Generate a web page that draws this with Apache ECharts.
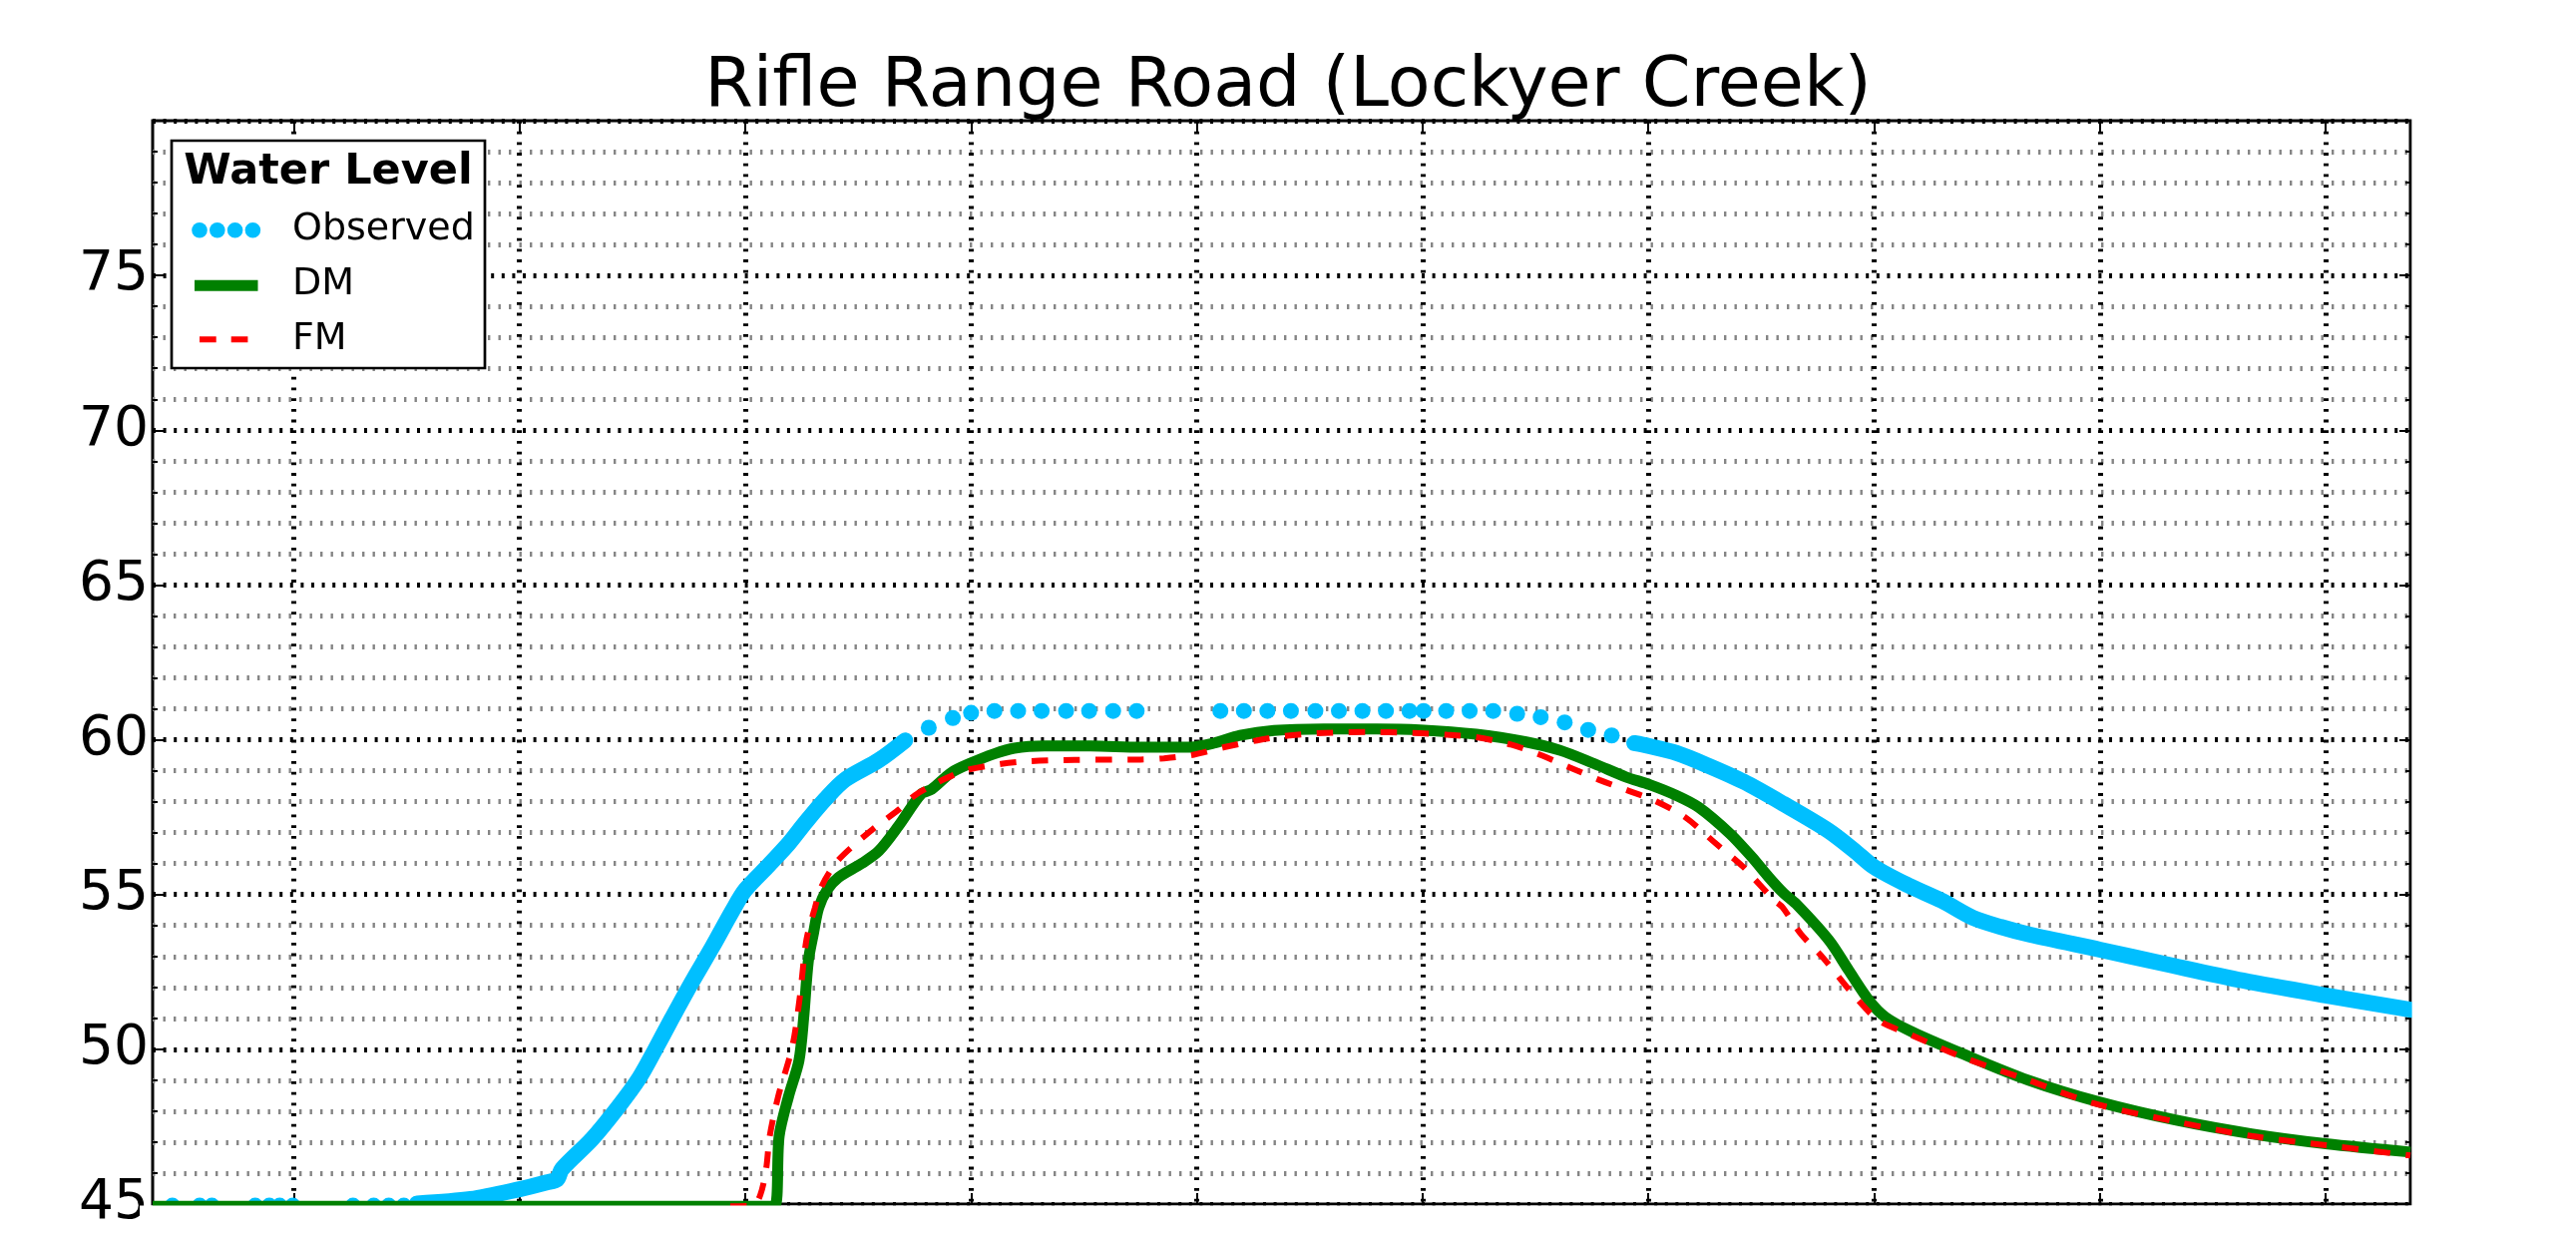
<!DOCTYPE html>
<html>
<head>
<meta charset="utf-8">
<title>Rifle Range Road (Lockyer Creek)</title>
<script src="https://cdn.jsdelivr.net/npm/echarts@6/dist/echarts.min.js"></script>
<style>
  html, body { margin: 0; padding: 0; background: #fff; }
  #chart { width: 2582px; height: 1237px; }
</style>
</head>
<body>
<div id="chart"></div>
<script>
// time axis is in hours from midnight of day 0, the plot runs 09:00 day 0 -> 09:00 day 10
var dayTicks = [24, 48, 72, 96, 120, 144, 168, 192, 216, 240];

// Observed - dense logging on the rise
var obsRiseTime = [37.1, 42.8, 48.0, 50.9, 52.0, 52.5, 55.7, 58.5, 60.7, 62.4, 64.2, 66.3, 68.5, 70.6, 72.0, 74.5, 76.6, 78.4, 80.5, 82.6, 86.2, 89.0];
var obsRiseLevel = [45.02, 45.16, 45.48, 45.7, 45.8, 46.13, 47.1, 48.14, 49.06, 49.98, 51.0, 52.16, 53.31, 54.46, 55.15, 55.95, 56.64, 57.33, 58.08, 58.71, 59.34, 59.98];

// Observed - sparse readings (base flow and the peak)
var obsDotTime = [11.1, 14.0, 15.3, 19.9, 21.4, 22.5, 23.9, 30.3, 32.5, 34.1, 35.7,
  91.5, 94.06, 96.0, 98.48, 101.0, 103.5, 106.1, 108.55, 111.1, 113.6,
  122.5, 125.0, 127.5, 130.0, 132.6, 135.1, 137.6, 140.1, 142.6, 144.1, 146.5, 149.0, 151.5,
  154.05, 156.55, 159.1, 161.6, 164.1];
var obsDotLevel = [44.95, 44.95, 44.95, 44.95, 44.95, 44.95, 44.95, 44.95, 44.95, 44.95, 44.95,
  60.39, 60.7, 60.87, 60.93, 60.93, 60.93, 60.93, 60.93, 60.93, 60.93,
  60.93, 60.93, 60.93, 60.93, 60.93, 60.93, 60.93, 60.93, 60.93, 60.93, 60.93, 60.93, 60.93,
  60.84, 60.73, 60.56, 60.32, 60.14];

// Observed - dense logging on the recession
var obsFallTime = [166.5, 168.0, 171.0, 174.3, 178.1, 182.35, 187.1, 189.9, 192.0, 195.6, 199.2, 202.5, 205.5, 208.6, 216.0, 222.9, 231.2, 240.0, 249.0];
var obsFallLevel = [59.89, 59.8, 59.57, 59.17, 58.65, 57.93, 57.07, 56.42, 55.89, 55.3, 54.8, 54.25, 53.95, 53.7, 53.22, 52.76, 52.22, 51.74, 51.28];

// DM model
var dmTime = [9, 75.1, 75.6, 76.6, 77.7, 78.2, 78.7, 79.26, 79.8, 80.7, 81.9, 84.4, 86.2, 88.3, 90.7, 91.8, 93.9, 96.0, 98.4, 100.6, 103.8, 108.7, 114.0, 119.3, 121.8, 124.6, 128.2, 133.5, 139.1, 143.7, 149.7, 155.0, 158.6, 162.3, 165.6, 168.15, 171.0, 173.35, 176.7, 179.0, 180.8, 182.35, 183.7, 187.2, 189.3, 191.45, 193.2, 196.05, 201.35, 208.4, 216.0, 224.25, 232.1, 240.0, 249.0];
var dmLevel = [44.93, 44.93, 47.2, 48.48, 49.63, 51.0, 52.85, 53.77, 54.57, 55.15, 55.55, 56.01, 56.41, 57.22, 58.25, 58.4, 58.94, 59.25, 59.54, 59.73, 59.8, 59.8, 59.76, 59.76, 59.89, 60.14, 60.3, 60.35, 60.35, 60.32, 60.18, 59.93, 59.66, 59.22, 58.8, 58.55, 58.2, 57.82, 56.96, 56.21, 55.56, 55.05, 54.7, 53.52, 52.55, 51.58, 51.04, 50.56, 49.86, 49.0, 48.29, 47.7, 47.27, 46.95, 46.68];

// FM model
var fmTime = [70.4, 72.8, 73.6, 74.2, 74.6, 75.5, 77.0, 77.8, 78.5, 79.4, 80.1, 81.6, 83.3, 85.5, 88.3, 90.0, 92.5, 93.9, 95.65, 99.2, 102.4, 107.0, 114.0, 116.5, 119.7, 122.9, 126.4, 129.9, 133.5, 138.1, 143.0, 146.6, 149.7, 153.3, 156.45, 159.6, 162.8, 166.0, 168.6, 171.9, 175.2, 178.1, 179.1, 181.4, 182.25, 184.2, 186.5, 190.0, 192.5, 196.05, 201.35, 208.4, 215.5, 224.25, 232.1, 240.0, 249.0];
var fmLevel = [44.93, 44.95, 45.3, 46.1, 47.2, 48.48, 50.09, 51.7, 53.54, 54.57, 55.26, 56.01, 56.53, 57.1, 57.74, 58.2, 58.63, 58.83, 59.03, 59.22, 59.31, 59.35, 59.36, 59.4, 59.52, 59.76, 59.98, 60.14, 60.22, 60.25, 60.22, 60.16, 60.08, 59.85, 59.52, 59.11, 58.7, 58.34, 58.04, 57.5, 56.64, 55.89, 55.56, 54.81, 54.59, 53.73, 52.98, 51.69, 50.93, 50.45, 49.75, 49.0, 48.24, 47.65, 47.2, 46.9, 46.57];

function pairs(xs, ys) {
  var out = [];
  for (var i = 0; i < xs.length; i++) out.push([xs[i], ys[i]]);
  return out;
}

var FONT = 'DejaVu Sans';
var BLUE = '#00BFFF', GREEN = '#008000', RED = '#FF0000';

var chart = echarts.init(document.getElementById('chart'), null, {renderer: 'canvas'});

var tickStyle = {color: '#000', width: 2};

var option = {
  animation: false,
  backgroundColor: '#fff',
  title: {
    text: 'Rifle Range Road (Lockyer Creek)',
    left: 'center',
    top: 48,
    textStyle: {fontFamily: FONT, fontSize: 70, fontWeight: 'normal', color: '#000'}
  },
  grid: {
    left: 153, right: 166, top: 121, bottom: 30,
    show: true, borderColor: '#000', borderWidth: 3, backgroundColor: 'transparent'
  },
  xAxis: [{
    type: 'value', min: 9, max: 249, position: 'bottom',
    axisLine: {show: false},
    axisLabel: {show: false},
    axisTick: {show: true, inside: true, length: 11, lineStyle: tickStyle, customValues: dayTicks},
    splitLine: {show: true, lineStyle: {color: '#000', width: 5, type: [2.8, 7.9]}}
  }, {
    type: 'value', min: 9, max: 249, position: 'top',
    axisLine: {show: false},
    axisLabel: {show: false},
    axisTick: {show: true, inside: true, length: 11, lineStyle: tickStyle, customValues: dayTicks},
    splitLine: {show: false}
  }],
  yAxis: [{
    type: 'value', min: 45, max: 80, interval: 5, position: 'left',
    axisLine: {show: false},
    axisTick: {show: true, inside: true, length: 11, lineStyle: tickStyle},
    minorTick: {show: true, splitNumber: 5, length: 5, lineStyle: tickStyle},
    axisLabel: {show: true, showMaxLabel: false, margin: 4, fontFamily: FONT, fontSize: 55, color: '#000'},
    splitLine: {show: true, lineStyle: {color: '#000', width: 5, type: [3, 7.6]}},
    minorSplitLine: {show: true, lineStyle: {color: '#858585', width: 5, type: [2.4, 8.1]}}
  }, {
    type: 'value', min: 45, max: 80, interval: 5, position: 'right',
    axisLine: {show: false},
    axisTick: {show: true, inside: true, length: 11, lineStyle: tickStyle},
    minorTick: {show: true, splitNumber: 5, length: 5, lineStyle: tickStyle},
    axisLabel: {show: false},
    splitLine: {show: false}
  }],
  series: [{
    name: 'Observed', type: 'line', clip: false,
    data: pairs(obsRiseTime, obsRiseLevel),
    showSymbol: false, smooth: 0.3,
    lineStyle: {color: BLUE, width: 16, cap: 'round', join: 'round'}
  }, {
    name: 'Observed', type: 'line', clip: false,
    data: pairs(obsFallTime, obsFallLevel),
    showSymbol: false, smooth: 0.3,
    lineStyle: {color: BLUE, width: 16, cap: 'round', join: 'round'}
  }, {
    name: 'Observed', type: 'scatter', clip: false,
    data: pairs(obsDotTime, obsDotLevel),
    symbol: 'circle', symbolSize: 16,
    itemStyle: {color: BLUE, opacity: 1}
  }, {
    name: 'DM', type: 'line', clip: false,
    data: pairs(dmTime, dmLevel),
    showSymbol: false, smooth: 0.3,
    lineStyle: {color: GREEN, width: 11, join: 'round'}
  }, {
    name: 'FM', type: 'line', clip: false,
    data: pairs(fmTime, fmLevel),
    showSymbol: false, smooth: 0.3,
    lineStyle: {color: RED, width: 6, type: [16.5, 15.5]}
  }],
  graphic: [
    // matplotlib clips to the axes box: hide what spills below / right of it
    {type: 'rect', z: 50, silent: true, shape: {x: 140, y: 1208.6, width: 2300, height: 40}, style: {fill: '#fff'}},
    {type: 'rect', z: 50, silent: true, shape: {x: 2417.6, y: 0, width: 170, height: 1237}, style: {fill: '#fff'}},
    // legend box
    {type: 'rect', z: 100, shape: {x: 172, y: 141, width: 314, height: 228}, style: {fill: '#fff', stroke: '#000', lineWidth: 2.7}},
    {type: 'text', z: 101, style: {text: 'Water Level', x: 329, y: 173, textAlign: 'center', textVerticalAlign: 'middle', fontFamily: FONT, fontSize: 43, fontWeight: 'bold', fill: '#000'}},
    {type: 'circle', z: 101, shape: {cx: 200, cy: 230.7, r: 7.8}, style: {fill: BLUE}},
    {type: 'circle', z: 101, shape: {cx: 217.8, cy: 230.7, r: 7.8}, style: {fill: BLUE}},
    {type: 'circle', z: 101, shape: {cx: 235.6, cy: 230.7, r: 7.8}, style: {fill: BLUE}},
    {type: 'circle', z: 101, shape: {cx: 253.4, cy: 230.7, r: 7.8}, style: {fill: BLUE}},
    {type: 'line', z: 101, shape: {x1: 195, y1: 286.3, x2: 258.5, y2: 286.3}, style: {stroke: GREEN, lineWidth: 11}},
    {type: 'line', z: 101, shape: {x1: 200, y1: 340.3, x2: 248.5, y2: 340.3}, style: {stroke: RED, lineWidth: 6, lineDash: [16.7, 15]}},
    {type: 'text', z: 101, style: {text: 'Observed', x: 293, y: 230.5, textAlign: 'left', textVerticalAlign: 'middle', fontFamily: FONT, fontSize: 38, fill: '#000'}},
    {type: 'text', z: 101, style: {text: 'DM', x: 293, y: 285.5, textAlign: 'left', textVerticalAlign: 'middle', fontFamily: FONT, fontSize: 38, fill: '#000'}},
    {type: 'text', z: 101, style: {text: 'FM', x: 293, y: 340.3, textAlign: 'left', textVerticalAlign: 'middle', fontFamily: FONT, fontSize: 38, fill: '#000'}}
  ]
};

chart.setOption(option);
</script>
</body>
</html>
